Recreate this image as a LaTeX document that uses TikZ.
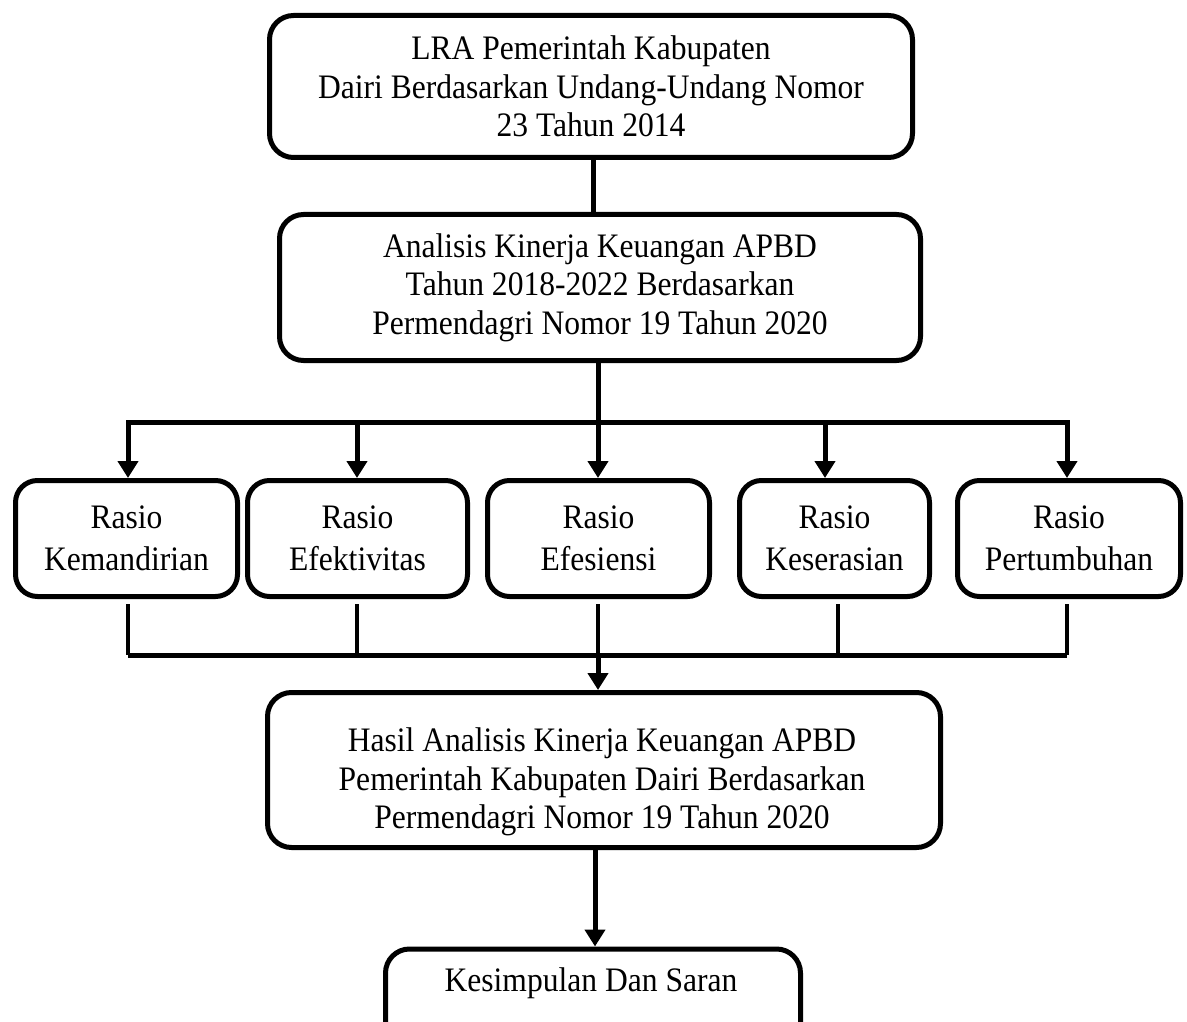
\documentclass[tikz,border=0pt]{standalone}
\usepackage{fontspec}
\setmainfont{Liberation Serif}[FakeStretch=0.92]
\usetikzlibrary{arrows.meta}
\begin{document}
\begin{tikzpicture}[x=1pt,y=-1pt,
  box/.style={draw, line width=5pt, rounded corners=24pt, align=center,
    font=\fontsize{34.3}{38.5}\selectfont, inner sep=0pt},
  txt/.style={align=center, font=\fontsize{34.3}{38.5}\selectfont, inner sep=0pt},
  small/.style={box, font=\fontsize{34.3}{42}\selectfont, rounded corners=22pt,
    minimum height=116pt},
  ln/.style={line width=5pt},
  thin/.style={line width=4.2pt},
  arr/.style={ln, -{Triangle[width=20pt,length=17pt]}}]
\clip (0,0) rectangle (1187,1022);
\fill[white] (0,0) rectangle (1187,1022);

% main boxes
\node[box, minimum width=643pt, minimum height=142pt] (b1) at (591,86.5)
  {LRA Pemerintah Kabupaten\\Dairi Berdasarkan Undang-Undang Nomor\\23 Tahun 2014};
\node[box, minimum width=641pt, minimum height=146pt] (b2) at (600,287.5)
  {Analisis Kinerja Keuangan APBD\\Tahun 2018-2022 Berdasarkan\\Permendagri Nomor 19 Tahun 2020};

% ratio boxes
\node[small, minimum width=222pt] (ra) at (126.5,538.5) {Rasio\\Kemandirian};
\node[small, minimum width=220pt] (rb) at (357.5,538.5) {Rasio\\Efektivitas};
\node[small, minimum width=222pt] (rc) at (598.5,538.5) {Rasio\\Efesiensi};
\node[small, minimum width=190pt] (rd) at (834.5,538.5) {Rasio\\Keserasian};
\node[small, minimum width=223pt] (re) at (1069,538.5) {Rasio\\Pertumbuhan};

% result boxes
\node[box, minimum width=673pt, minimum height=155pt] (b3) at (604,770) {};
\node[txt] (b3t) at (602,782)
  {Hasil Analisis Kinerja Keuangan APBD\\Pemerintah Kabupaten Dairi Berdasarkan\\Permendagri Nomor 19 Tahun 2020};
\node[box, minimum width=415pt, minimum height=128pt] (b4) at (593,1013) {};
\node[txt] (b4t) at (591,983) {Kesimpulan Dan Saran};

% connectors top
\draw[ln] (593,0 |- b1.south) -- (593,0 |- b2.north);
\coordinate (t0) at (598,422);
\coordinate (tl) at (128,422);
\coordinate (tr) at (1067,422);
\draw[ln] (598,0 |- b2.south) -- (t0);
\draw[ln, line cap=rect] (tl) -- (tr);
\coordinate (ta) at (128,422);
\coordinate (tb) at (357,422);
\coordinate (td) at (825,422);
\draw[arr] (ta) -- (ta |- ra.north);
\draw[arr] (tb) -- (tb |- rb.north);
\draw[arr] (t0) -- (t0 |- rc.north);
\draw[arr] (td) -- (td |- rd.north);
\draw[arr] (tr) -- (tr |- re.north);

% connectors bottom
\coordinate (ua) at (128,655);
\coordinate (ub) at (357,655);
\coordinate (uc) at (598,655);
\coordinate (ud) at (838,655);
\coordinate (ue) at (1067,655);
\draw[thin] ([yshift=-5pt]ua |- ra.south) -- (ua);
\draw[thin] ([yshift=-5pt]ub |- rb.south) -- (ub);
\draw[thin] ([yshift=-5pt]uc |- rc.south) -- (uc);
\draw[thin] ([yshift=-5pt]ud |- rd.south) -- (ud);
\draw[thin] ([yshift=-5pt]ue |- re.south) -- (ue);
\draw[ln] (ua) -- (ue);
\draw[arr] (uc) -- (uc |- b3.north);
\coordinate (v) at (595,0);
\draw[arr] (v |- b3.south) -- (v |- b4.north);
\end{tikzpicture}
\end{document}
